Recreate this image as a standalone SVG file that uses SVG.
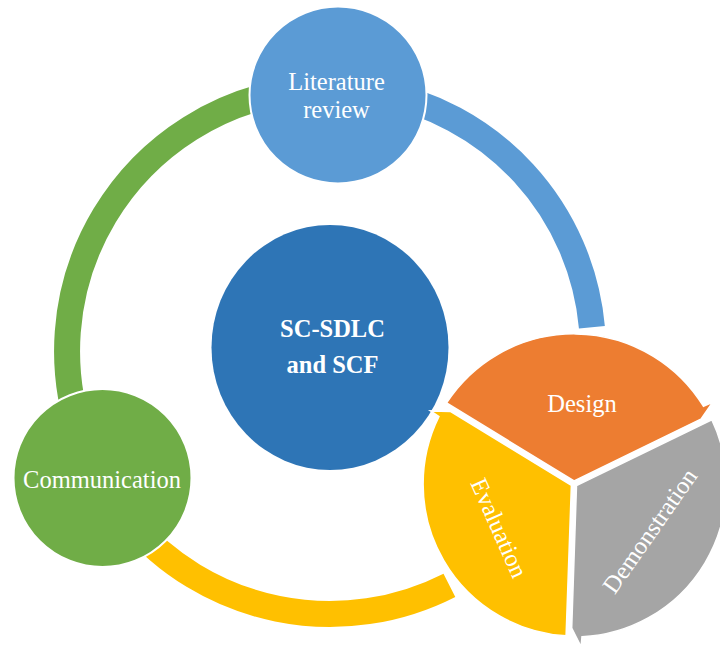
<svg xmlns="http://www.w3.org/2000/svg" width="720" height="648" viewBox="0 0 720 648">
  <style>
    .lbl { font-family: "Liberation Serif", "Times New Roman", serif; font-size: 24.5px; fill: #ffffff; text-anchor: middle; }
    .bold { font-weight: bold; }
    .ring { fill: none; stroke-width: 26; stroke-linecap: butt; }
    .node { stroke: #ffffff; stroke-width: 2; }
    .seg { stroke: #ffffff; stroke-width: 1.5; stroke-linejoin: miter; }
  </style>
  <rect width="720" height="648" fill="#ffffff"/>
  <g id="connectors">
    <path class="ring" stroke="#70AD47" d="M82.9,440.9 A263,263 0 0 1 293.4,90.6"/>
    <path class="ring" stroke="#5B9BD5" d="M375.7,92.0 A263,263 0 0 1 591.9,327.2"/>
    <path class="ring" stroke="#FFC000" d="M449.4,585.3 A263,263 0 0 1 128.5,520.1"/>
  </g>
  <g id="center">
    <ellipse cx="330" cy="347.5" rx="118.5" ry="122.5" fill="#2E75B6"/>
    <text class="lbl bold" x="332.5" y="337">SC-SDLC</text>
    <text class="lbl bold" x="332.5" y="373">and SCF</text>
  </g>
  <g id="literature-review">
    <circle class="node" cx="338" cy="95" r="88.5" fill="#5B9BD5"/>
    <text class="lbl" x="336.5" y="90">Literature</text>
    <text class="lbl" x="336.5" y="118">review</text>
  </g>
  <g id="communication">
    <circle class="node" cx="102.5" cy="478" r="89" fill="#70AD47"/>
    <text class="lbl" x="102" y="488">Communication</text>
  </g>
  <g id="design">
    <path class="seg" fill="#ED7D31" d="M574.1,481.0 L446.6,402.9 A152,152 0 0 1 703.4,406.2 L712.7,402.3 L701.3,418.8 Z"/>
    <text class="lbl" x="582" y="412">Design</text>
  </g>
  <g id="evaluation">
    <path class="seg" fill="#FFC000" d="M571.4,485.4 L566.1,635.8 A152,152 0 0 1 438.9,416.6 L430.5,410.9 L450.7,411.6 Z"/>
    <text class="lbl" transform="translate(499,528) rotate(66)" x="0" y="8">Evaluation</text>
  </g>
  <g id="demonstration">
    <path class="seg" fill="#A5A5A5" d="M576.5,485.6 L711.8,419.8 A152,152 0 0 1 582.0,636.8 L581.1,646.8 L571.7,628 Z"/>
    <text class="lbl" transform="translate(650,531) rotate(-55)" x="0" y="8">Demonstration</text>
  </g>
</svg>
